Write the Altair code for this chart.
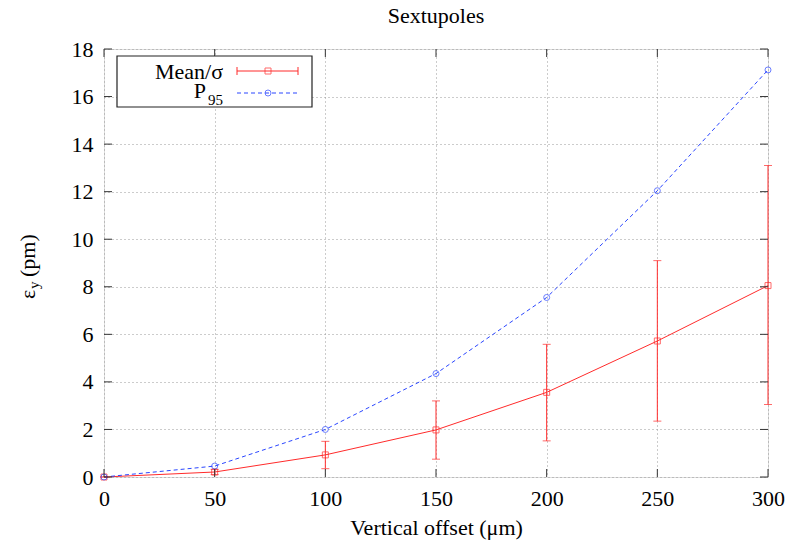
import altair as alt
import pandas as pd

offset = [0, 50, 100, 150, 200, 250, 300]
mean = [0.0, 0.21, 0.93, 1.98, 3.56, 5.72, 8.05]
sig_lo = [0.0, 0.10, 0.35, 0.75, 1.52, 2.35, 3.05]
sig_hi = [0.0, 0.32, 1.50, 3.20, 5.58, 9.10, 13.10]
p95 = [0.0, 0.46, 2.00, 4.35, 7.55, 12.04, 17.12]

x_ticks = [0, 50, 100, 150, 200, 250, 300]
y_ticks = [0, 2, 4, 6, 8, 10, 12, 14, 16, 18]

title_text = "Sextupoles"
x_title = "Vertical offset (μm)"
legend_mean = "Mean/σ"

RED = "#ff2b2b"
BLUE = "#2a46ff"
FONT = "Liberation Serif"
W, H = 664, 428

df = pd.DataFrame({"offset": offset, "mean": mean, "lo": sig_lo, "hi": sig_hi, "p95": p95})
xt = pd.DataFrame({"v": x_ticks})
yt = pd.DataFrame({"v": y_ticks})
one = pd.DataFrame({"a": [0]})

xscale = alt.Scale(domain=[0, 300], nice=False, zero=False)
yscale = alt.Scale(domain=[0, 18], nice=False, zero=False)

xaxis = alt.Axis(values=x_ticks, title=x_title, grid=True, gridDash=[1, 3], gridColor="#999",
                 ticks=False, domain=False, labelFont=FONT, labelFontSize=22, labelColor="#000",
                 labelPadding=11, titleFont=FONT, titleFontSize=22, titleFontWeight="normal",
                 titleColor="#000", titlePadding=8, labelFlush=False)
yaxis = alt.Axis(values=y_ticks, title="", grid=True, gridDash=[1, 3], gridColor="#999",
                 ticks=False, domain=False, labelFont=FONT, labelFontSize=22, labelColor="#000",
                 labelPadding=11, labelFlush=False)


def X(f):
    return alt.X(f, scale=xscale, axis=xaxis)


def Y(f):
    return alt.Y(f, scale=yscale, axis=yaxis)


base = alt.Chart(df)

mean_line = base.mark_line(color=RED, strokeWidth=1).encode(x=X("offset:Q"), y=Y("mean:Q"))
p95_line = base.mark_line(color=BLUE, strokeWidth=1, strokeDash=[4, 3]).encode(x=X("offset:Q"), y=Y("p95:Q"))
err = base.mark_errorbar(color=RED, thickness=1, ticks=alt.MarkConfig(size=8)).encode(
    x=X("offset:Q"), y=Y("lo:Q"), y2="hi:Q")
mean_pts = base.mark_point(shape="square", filled=False, color=RED, size=36, strokeWidth=1).encode(
    x=X("offset:Q"), y=Y("mean:Q"))
p95_pts = base.mark_point(shape="circle", filled=False, color=BLUE, size=36, strokeWidth=1).encode(
    x=X("offset:Q"), y=Y("p95:Q"))

TK = 8
tick_col = "#333"
xt_bot = alt.Chart(xt).mark_rule(color=tick_col, strokeWidth=1).encode(
    x=X("v:Q"), y=alt.value(H), y2=alt.value(H - TK))
xt_top = alt.Chart(xt).mark_rule(color=tick_col, strokeWidth=1).encode(
    x=X("v:Q"), y=alt.value(0), y2=alt.value(TK))
yt_left = alt.Chart(yt).mark_rule(color=tick_col, strokeWidth=1).encode(
    y=Y("v:Q"), x=alt.value(0), x2=alt.value(TK))
yt_right = alt.Chart(yt).mark_rule(color=tick_col, strokeWidth=1).encode(
    y=Y("v:Q"), x=alt.value(W - TK), x2=alt.value(W))

oc = alt.Chart(one)
title = oc.mark_text(text=title_text, font=FONT, fontSize=22, align="center", baseline="middle", color="#000").encode(
    x=alt.value(W / 2), y=alt.value(-33))

yl_eps = oc.mark_text(text="ε", font=FONT, fontSize=22, angle=270, align="left", baseline="middle", color="#000").encode(
    x=alt.value(-76), y=alt.value(250))
yl_sub = oc.mark_text(text="y", font=FONT, fontSize=15, angle=270, align="left", baseline="middle", color="#000").encode(
    x=alt.value(-70), y=alt.value(240))
yl_pm = oc.mark_text(text="(pm)", font=FONT, fontSize=22, angle=270, align="left", baseline="middle", color="#000").encode(
    x=alt.value(-76), y=alt.value(228))

leg_box = oc.mark_rect(fill="white", stroke="#222", strokeWidth=1.2).encode(
    x=alt.value(13), x2=alt.value(208), y=alt.value(7), y2=alt.value(58))
leg_t1 = oc.mark_text(text=legend_mean, font=FONT, fontSize=22, align="right", baseline="middle", color="#000").encode(
    x=alt.value(119), y=alt.value(23))
leg_t2 = oc.mark_text(text="P", font=FONT, fontSize=22, align="right", baseline="middle", color="#000").encode(
    x=alt.value(102), y=alt.value(42))
leg_t3 = oc.mark_text(text="95", font=FONT, fontSize=15, align="left", baseline="middle", color="#000").encode(
    x=alt.value(104), y=alt.value(51))
leg_l1 = oc.mark_rule(color=RED, strokeWidth=1).encode(x=alt.value(133), x2=alt.value(194), y=alt.value(22))
leg_c1 = oc.mark_rule(color=RED, strokeWidth=1).encode(x=alt.value(133), y=alt.value(18), y2=alt.value(26))
leg_c2 = oc.mark_rule(color=RED, strokeWidth=1).encode(x=alt.value(194), y=alt.value(18), y2=alt.value(26))
leg_p1 = oc.mark_point(shape="square", filled=False, color=RED, size=36, strokeWidth=1).encode(
    x=alt.value(164), y=alt.value(22))
leg_l2 = oc.mark_rule(color=BLUE, strokeWidth=1, strokeDash=[4, 3]).encode(x=alt.value(133), x2=alt.value(194), y=alt.value(44))
leg_p2 = oc.mark_point(shape="circle", filled=False, color=BLUE, size=36, strokeWidth=1).encode(
    x=alt.value(164), y=alt.value(44))

chart = alt.layer(
    mean_line, p95_line, err, mean_pts, p95_pts,
    xt_bot, xt_top, yt_left, yt_right,
    title, yl_eps, yl_sub, yl_pm,
    leg_box, leg_t1, leg_t2, leg_t3, leg_l1, leg_c1, leg_c2, leg_p1, leg_l2, leg_p2,
).properties(
    width=W, height=H,
    autosize=alt.AutoSizeParams(type="none"),
    padding={"left": 104, "top": 49, "right": 29, "bottom": 71},
).configure_view(
    stroke="#333", strokeWidth=1.5
).configure(background="white")

chart.save("out.html", embed_options={"renderer": "svg", "actions": False})
